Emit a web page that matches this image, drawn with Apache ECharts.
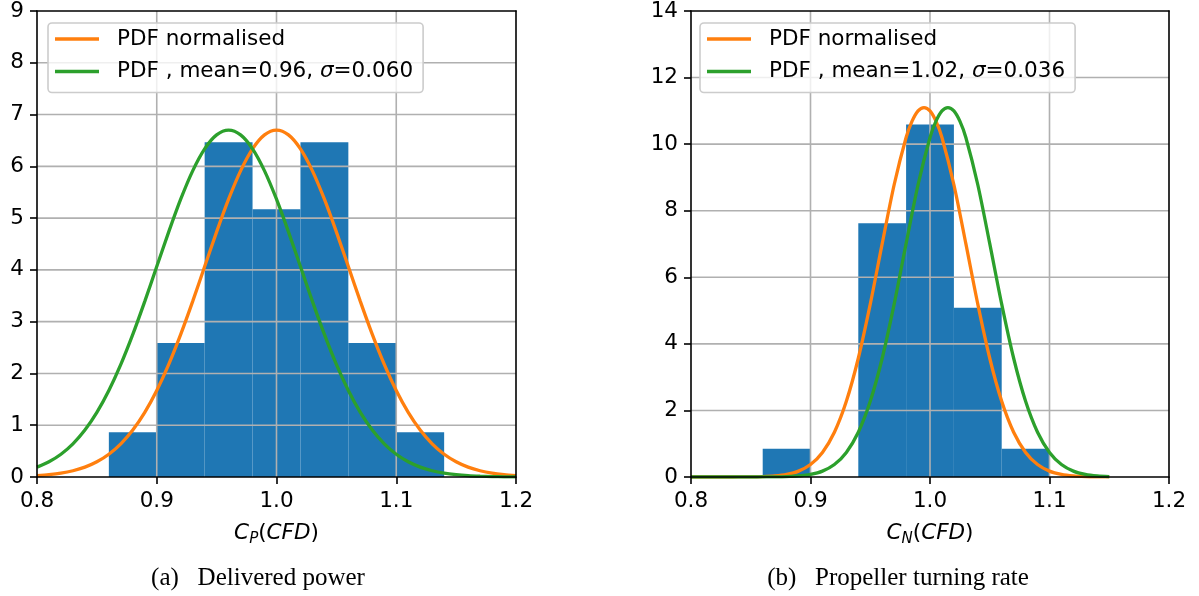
<!DOCTYPE html>
<html>
<head>
<meta charset="utf-8">
<script src="https://cdn.jsdelivr.net/npm/echarts@6/dist/echarts.min.js"></script>
<style>
  html, body { margin: 0; padding: 0; background: #fff; }
  #chart { width: 1199px; height: 596px; }
</style>
</head>
<body>
<div id="chart"></div>
<script>
// axes ticks
const xTicks = [0.8, 0.9, 1.0, 1.1, 1.2]
const leftYTicks = [0, 1, 2, 3, 4, 5, 6, 7, 8, 9]
const rightYTicks = [0, 2, 4, 6, 8, 10, 12, 14]

// histogram bins (left edge, right edge) and density
const leftBinEdges = [0.86, 0.90, 0.94, 0.98, 1.02, 1.06, 1.10, 1.14]
const leftDensity = [0.862, 2.586, 6.466, 5.172, 6.466, 2.586, 0.862]
const rightBinEdges = [0.86, 0.90, 0.94, 0.98, 1.02, 1.06, 1.10]
const rightDensity = [0.847, 0, 7.627, 10.593, 5.085, 0.847]

// curves, left panel (x step 0.01 from 0.80 to 1.20)
const leftCurveX = [0.80, 0.81, 0.82, 0.83, 0.84, 0.85, 0.86, 0.87, 0.88, 0.89,
  0.90, 0.91, 0.92, 0.93, 0.94, 0.95, 0.96, 0.97, 0.98, 0.99,
  1.00, 1.01, 1.02, 1.03, 1.04, 1.05, 1.06, 1.07, 1.08, 1.09,
  1.10, 1.11, 1.12, 1.13, 1.14, 1.15, 1.16, 1.17, 1.18, 1.19, 1.20]
const leftNormalised = [0.026, 0.045, 0.074, 0.121, 0.191, 0.294, 0.440, 0.641, 0.907, 1.248,
  1.671, 2.175, 2.754, 3.392, 4.064, 4.734, 5.365, 5.913, 6.338, 6.607,
  6.700, 6.607, 6.338, 5.913, 5.365, 4.734, 4.064, 3.392, 2.754, 2.175,
  1.671, 1.248, 0.907, 0.641, 0.440, 0.294, 0.191, 0.121, 0.074, 0.045, 0.026]
const leftPdf = [0.191, 0.294, 0.440, 0.641, 0.907, 1.248, 1.671, 2.175, 2.754, 3.392,
  4.064, 4.734, 5.365, 5.913, 6.338, 6.607, 6.700, 6.607, 6.338, 5.913,
  5.365, 4.734, 4.064, 3.392, 2.754, 2.175, 1.671, 1.248, 0.907, 0.641,
  0.440, 0.294, 0.191, 0.121, 0.074, 0.045, 0.026, 0.015, 0.008, 0.004, 0.002]

// curves, right panel
const rightNormalisedX = [0.80, 0.82, 0.83, 0.84, 0.85, 0.86, 0.87, 0.88, 0.89, 0.90,
  0.91, 0.92, 0.93, 0.94, 0.95, 0.96, 0.97, 0.98, 0.985, 0.99,
  0.995, 1.00, 1.005, 1.01, 1.02, 1.03, 1.04, 1.05, 1.06, 1.07,
  1.08, 1.09, 1.10, 1.11, 1.12, 1.13, 1.14, 1.15]
const rightNormalised = [0, 0.0001, 0.0004, 0.0013, 0.0042, 0.0119, 0.0315, 0.078, 0.177, 0.375,
  0.738, 1.344, 2.274, 3.568, 5.193, 7.010, 8.78, 10.20, 10.69, 11.00,
  11.10, 11.00, 10.69, 10.20, 8.78, 7.010, 5.193, 3.568, 2.274, 1.344,
  0.738, 0.375, 0.177, 0.078, 0.0315, 0.0119, 0.0042, 0.0013]
const rightPdfX = [0.80, 0.84, 0.85, 0.86, 0.87, 0.88, 0.89, 0.90, 0.91, 0.92,
  0.93, 0.94, 0.95, 0.96, 0.97, 0.98, 0.99, 1.00, 1.005, 1.01,
  1.015, 1.02, 1.025, 1.03, 1.04, 1.05, 1.06, 1.07, 1.08, 1.09,
  1.10, 1.11, 1.12, 1.13, 1.14, 1.15]
const rightPdf = [0, 0.0001, 0.0004, 0.0013, 0.0042, 0.0119, 0.0315, 0.078, 0.177, 0.375,
  0.738, 1.344, 2.274, 3.568, 5.193, 7.010, 8.78, 10.20, 10.69, 11.00,
  11.10, 11.00, 10.69, 10.20, 8.78, 7.010, 5.193, 3.568, 2.274, 1.344,
  0.738, 0.375, 0.177, 0.078, 0.0315, 0.0119]

const nameNormalised = 'PDF normalised'
const nameLeftPdf = 'PDF , mean=0.96, σ=0.060'
const nameRightPdf = 'PDF , mean=1.02, σ=0.036'
const captionLeft = '(a)\u2002 Delivered power'
const captionRight = '(b)\u2002 Propeller turning rate'

const FONT = 'DejaVu Sans'
const FS = 21.5
const BLUE = '#1f77b4'
const ORANGE = '#ff7f0e'
const GREEN = '#2ca02c'

const zip = (xs, ys) => xs.map((x, i) => [x, ys[i]])
const bins = (edges, vals) => vals.map((v, i) => [edges[i], edges[i + 1], v])

function histItem(params, api) {
  const p0 = api.coord([api.value(0), api.value(2)])
  const p1 = api.coord([api.value(1), 0])
  return {
    type: 'rect',
    shape: { x: p0[0], y: p0[1], width: p1[0] - p0[0], height: p1[1] - p0[1] },
    style: { fill: BLUE }
  }
}

// grid lines drawn above the bars, like matplotlib
function gridItem(params, api) {
  const cs = params.coordSys
  if (api.value(2) === 0) {
    const x = api.coord([api.value(0), 0])[0]
    return { type: 'line', shape: { x1: x, y1: cs.y, x2: x, y2: cs.y + cs.height },
      style: { stroke: '#b0b0b0', lineWidth: 1.6 } }
  }
  const y = api.coord([0.8, api.value(1)])[1]
  return { type: 'line', shape: { x1: cs.x, y1: y, x2: cs.x + cs.width, y2: y },
    style: { stroke: '#b0b0b0', lineWidth: 1.6 } }
}

function gridData(yTicks) {
  const inner = xTicks.slice(1, -1).map(v => [v, 0, 0])
  return inner.concat(yTicks.slice(1, -1).map(v => [0.8, v, 1]))
}

function valueAxis(gridIndex, min, max, interval, isX) {
  return {
    type: 'value', gridIndex, min, max, interval, z: 10,
    axisLine: { show: true, onZero: false, lineStyle: { color: '#000', width: 1.6 } },
    axisTick: { show: true, length: 7, lineStyle: { color: '#000', width: 1.6 } },
    axisLabel: {
      color: '#000', fontSize: FS, fontFamily: FONT, margin: 13,
      showMinLabel: true, showMaxLabel: true,
      formatter: isX ? (v => v.toFixed(1)) : (v => String(Math.round(v)))
    },
    splitLine: { show: false }
  }
}

function spineAxis(gridIndex, position) {
  return {
    type: 'value', gridIndex, position, min: 0, max: 1, z: 10,
    axisLine: { show: true, onZero: false, lineStyle: { color: '#000', width: 1.6 } },
    axisTick: { show: false }, axisLabel: { show: false }, splitLine: { show: false }
  }
}

const legendRich = {
  s: { fontStyle: 'italic', fontSize: FS, fontFamily: FONT, color: '#000' }
}
function legendFmt(name) {
  const parts = name.split('σ')
  return parts.length === 1 ? name : parts[0] + '{s|σ}' + parts[1]
}
function legend(left, data) {
  return {
    orient: 'vertical', left, top: 23,
    data: data.map(name => ({ name, icon: 'rect' })),
    itemWidth: 44, itemHeight: 3.3, itemGap: 10.5,
    padding: [5, 10, 10, 7],
    backgroundColor: 'rgba(255,255,255,0.8)',
    borderColor: '#cccccc', borderWidth: 1.6, borderRadius: 4,
    formatter: legendFmt,
    textStyle: { fontSize: FS, fontFamily: FONT, color: '#000', lineHeight: FS,
      padding: [0, 0, 0, 13], rich: legendRich }
  }
}

const axisNameRich = {
  i: { fontStyle: 'italic', fontSize: FS, fontFamily: FONT, color: '#000', lineHeight: 28 },
  n: { fontSize: FS, fontFamily: FONT, color: '#000', lineHeight: 28 },
  sub: { fontStyle: 'italic', fontSize: 15, fontFamily: FONT, color: '#000', lineHeight: 16, verticalAlign: 'bottom' }
}

function xAxisWithName(gridIndex, sub) {
  const ax = valueAxis(gridIndex, 0.8, 1.2, 0.1, true)
  ax.name = '{i|C}{sub|' + sub + '}{n|(}{i|CFD}{n|)}'
  ax.nameLocation = 'middle'
  ax.nameGap = 42
  ax.nameTextStyle = { rich: axisNameRich }
  return ax
}

function curve(name, xi, yi, data, color) {
  return {
    name, type: 'line', xAxisIndex: xi, yAxisIndex: yi, data,
    symbol: 'none', smooth: 0.3, z: 4, silent: true,
    lineStyle: { color, width: 3.3 }, itemStyle: { color }
  }
}

function caption(x, text) {
  return { type: 'text', x, y: 578, style: { text, font: '25px "Liberation Serif"',
    fill: '#000', textAlign: 'center', textVerticalAlign: 'middle', align: 'center', verticalAlign: 'middle' } }
}

const option = {
  backgroundColor: '#fff',
  animation: false,
  grid: [
    { left: 37, top: 11, width: 479, height: 466 },
    { left: 691, top: 11, width: 478, height: 466 }
  ],
  xAxis: [xAxisWithName(0, 'P'), xAxisWithName(1, 'N'), spineAxis(0, 'top'), spineAxis(1, 'top')],
  yAxis: [
    valueAxis(0, 0, 9, 1, false),
    valueAxis(1, 0, 14, 2, false),
    spineAxis(0, 'right'),
    spineAxis(1, 'right')
  ],
  legend: [
    legend(48, [nameNormalised, nameLeftPdf]),
    legend(700, [nameNormalised, nameRightPdf])
  ],
  graphic: [caption(258, captionLeft), caption(898, captionRight)],
  series: [
    { type: 'custom', xAxisIndex: 0, yAxisIndex: 0, z: 2, silent: true,
      data: bins(leftBinEdges, leftDensity), encode: { x: [0, 1], y: 2 }, renderItem: histItem },
    { type: 'custom', xAxisIndex: 1, yAxisIndex: 1, z: 2, silent: true,
      data: bins(rightBinEdges, rightDensity), encode: { x: [0, 1], y: 2 }, renderItem: histItem },
    { type: 'custom', xAxisIndex: 0, yAxisIndex: 0, z: 3, silent: true,
      data: gridData(leftYTicks), encode: { x: 0, y: 1 }, renderItem: gridItem },
    { type: 'custom', xAxisIndex: 1, yAxisIndex: 1, z: 3, silent: true,
      data: gridData(rightYTicks), encode: { x: 0, y: 1 }, renderItem: gridItem },
    curve(nameNormalised, 0, 0, zip(leftCurveX, leftNormalised), ORANGE),
    curve(nameLeftPdf, 0, 0, zip(leftCurveX, leftPdf), GREEN),
    curve(nameNormalised, 1, 1, zip(rightNormalisedX, rightNormalised), ORANGE),
    curve(nameRightPdf, 1, 1, zip(rightPdfX, rightPdf), GREEN)
  ]
}

const chart = echarts.init(document.getElementById('chart'))
chart.setOption(option)
</script>
</body>
</html>
